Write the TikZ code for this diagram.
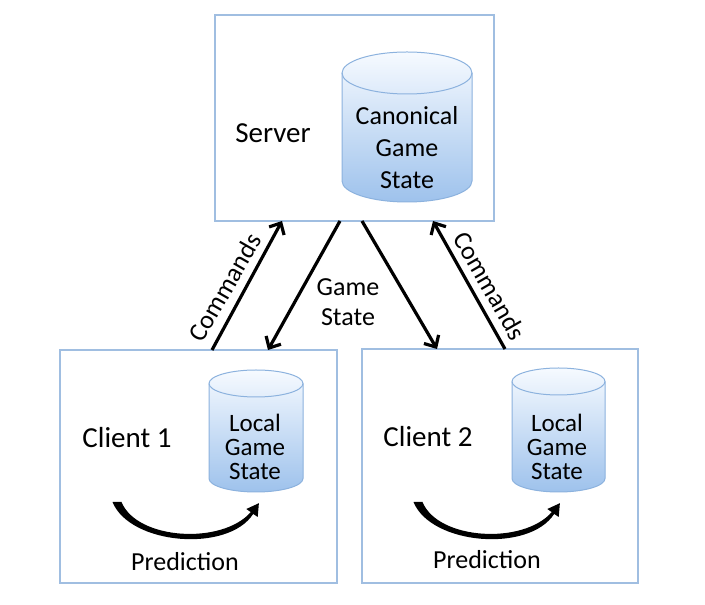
\documentclass[tikz,border=0pt]{standalone}
\usepackage{fontspec}
\setmainfont{Carlito}
\usetikzlibrary{arrows.meta}
\definecolor{boxline}{RGB}{160,190,225}
\definecolor{cylline}{RGB}{140,178,222}
\definecolor{cyltop}{RGB}{246,250,255}
\definecolor{cylbot}{RGB}{158,194,236}
\newcommand\dbcyl[5]{% cx cy rx halfheight ry
  \shadedraw[top color=cyltop, bottom color=cylbot, draw=cylline, line width=1pt]
    (#1-#3,#2+#4-#5) -- (#1-#3,#2-#4+#5)
    arc[start angle=180, end angle=360, x radius=#3, y radius=#5]
    -- (#1+#3,#2+#4-#5)
    arc[start angle=0, end angle=180, x radius=#3, y radius=#5] -- cycle;
  \draw[cylline, line width=1pt] (#1-#3,#2+#4-#5)
    arc[start angle=180, end angle=360, x radius=#3, y radius=#5];
}
\tikzset{
  box/.style={draw=boxline, line width=1.2pt, fill=white, inner sep=0pt, outer sep=0pt},
  biglbl/.style={font=\fontsize{29}{34}\selectfont, inner sep=0pt},
  dbtext/.style={font=\fontsize{26}{32}\selectfont, align=center, inner sep=0pt},
  dbsmall/.style={font=\fontsize{25}{24}\selectfont, align=center, inner sep=0pt},
  flowlbl/.style={font=\fontsize{26}{30}\selectfont, align=center, inner sep=0pt},
  flow/.style={line width=3.2pt, -{Straight Barb[length=9pt,width=17pt]}},
  predarrow/.style={fill=black}
}
\begin{document}
\begin{tikzpicture}[x=1pt,y=1pt]
\useasboundingbox (0,0) rectangle (705,605);
% boxes
\node[box, minimum width=279pt, minimum height=206pt] (srv) at (354.5,487) {};
\node[box, minimum width=277pt, minimum height=233pt] (c1) at (198.5,138.5) {};
\node[box, minimum width=276pt, minimum height=234pt] (c2) at (500,139) {};
% cylinders
\dbcyl{407}{478}{65}{75}{21}
\dbcyl{256}{174}{47}{61}{13.5}
\dbcyl{558.5}{175}{46.5}{62}{13.5}
% labels
\node[biglbl] (srvlbl) at (273,472) {Server};
\node[dbtext] (srvdb) at (407,457) {Canonical\\Game\\State};
\node[biglbl] (c1lbl) at (127,167) {Client 1};
\node[dbsmall] (c1db) at (255,158) {Local\\Game\\State};
\node[biglbl] (c2lbl) at (428,168) {Client 2};
\node[dbsmall] (c2db) at (557,158) {Local\\Game\\State};
\node[flowlbl] (pred1) at (185,43) {Prediction};
\node[flowlbl] (pred2) at (487,45) {Prediction};
\node[flowlbl] (gs) at (348,303) {Game\\State};
\node[flowlbl, rotate=60] (cmd1) at (225,318) {Commands};
\node[flowlbl, rotate=-60] (cmd2) at (490,319) {Commands};
% connectors
\draw[flow] ([xshift=152pt]c1.north west) -- ([xshift=67pt]srv.south west);
\draw[flow] ([xshift=125pt]srv.south west) -- ([xshift=208pt]c1.north west);
\draw[flow] ([xshift=147pt]srv.south west) -- ([xshift=75pt]c2.north west);
\draw[flow] ([xshift=143pt]c2.north west) -- ([xshift=218pt]srv.south west);
% prediction arrows
\foreach \dx/\dy in {0/0, 301/0}{
\begin{scope}[xshift=\dx pt, yshift=\dy pt]
\fill[predarrow] (112.5,103) .. controls (130,60) and (228,52) .. (253.2,91.1)
  -- (257.7,88) -- (258.9,101.8) -- (246.3,96) -- (250.8,92.9)
  .. controls (222,60) and (137,65) .. (121.5,103) -- cycle;
\end{scope}}
\end{tikzpicture}
\end{document}
